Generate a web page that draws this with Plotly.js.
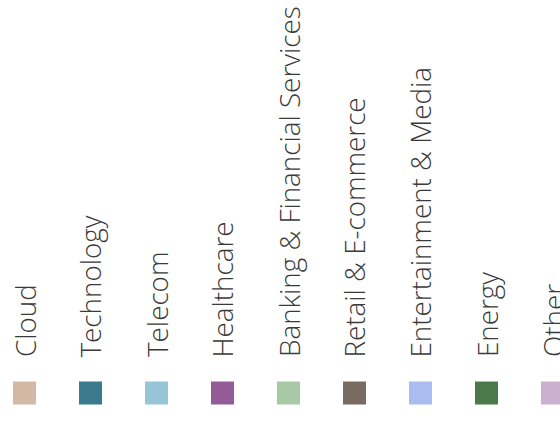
<!DOCTYPE html>
<html>
<head>
<meta charset="utf-8">
<script src="https://cdn.plot.ly/plotly-3.0.1.min.js"></script>
<style>html,body{margin:0;padding:0;background:#fff;}#chart{width:560px;height:423px;}</style>
</head>
<body>
<div id="chart"></div>
<script>
const categories = ["Cloud", "Technology", "Telecom", "Healthcare", "Banking & Financial Services", "Retail & E-commerce", "Entertainment & Media", "Energy", "Other"];
const colors = ["#d3b8a6", "#3b7a8c", "#96c6d6", "#935c98", "#a8c9a6", "#7a6b62", "#aabcf0", "#4a7a4a", "#ccb0d2"];
const values = [1, 1, 1, 1, 1, 1, 1, 1, 1];

const xs = categories.map((c, i) => i);
const trace = {
  type: "scatter",
  mode: "markers",
  x: xs,
  y: values.map(() => 0),
  marker: { symbol: "square", size: 23, color: colors, line: { width: 0 } },
  hoverinfo: "skip",
  cliponaxis: true
};
const fontSpec = { family: "Open Sans, Lato, sans-serif", size: 27.8, color: "#3a3a3a", weight: 300 };
const annotations = categories.map((c, i) => ({
  x: i, y: 0, xref: "x", yref: "y",
  text: c, showarrow: false, textangle: -90,
  xanchor: "center", yanchor: "bottom", yshift: 34,
  font: fontSpec
}));
const layout = {
  width: 560, height: 423,
  margin: { l: 0, r: 0, t: 0, b: 0 },
  paper_bgcolor: "#fff", plot_bgcolor: "#fff",
  showlegend: false,
  xaxis: { range: [-0.371, 8.114], visible: false, fixedrange: true },
  yaxis: { range: [-0.0763, 1], visible: false, fixedrange: true },
  annotations: annotations
};
Plotly.newPlot("chart", [trace], layout, { displayModeBar: false, staticPlot: true });
</script>
</body>
</html>
